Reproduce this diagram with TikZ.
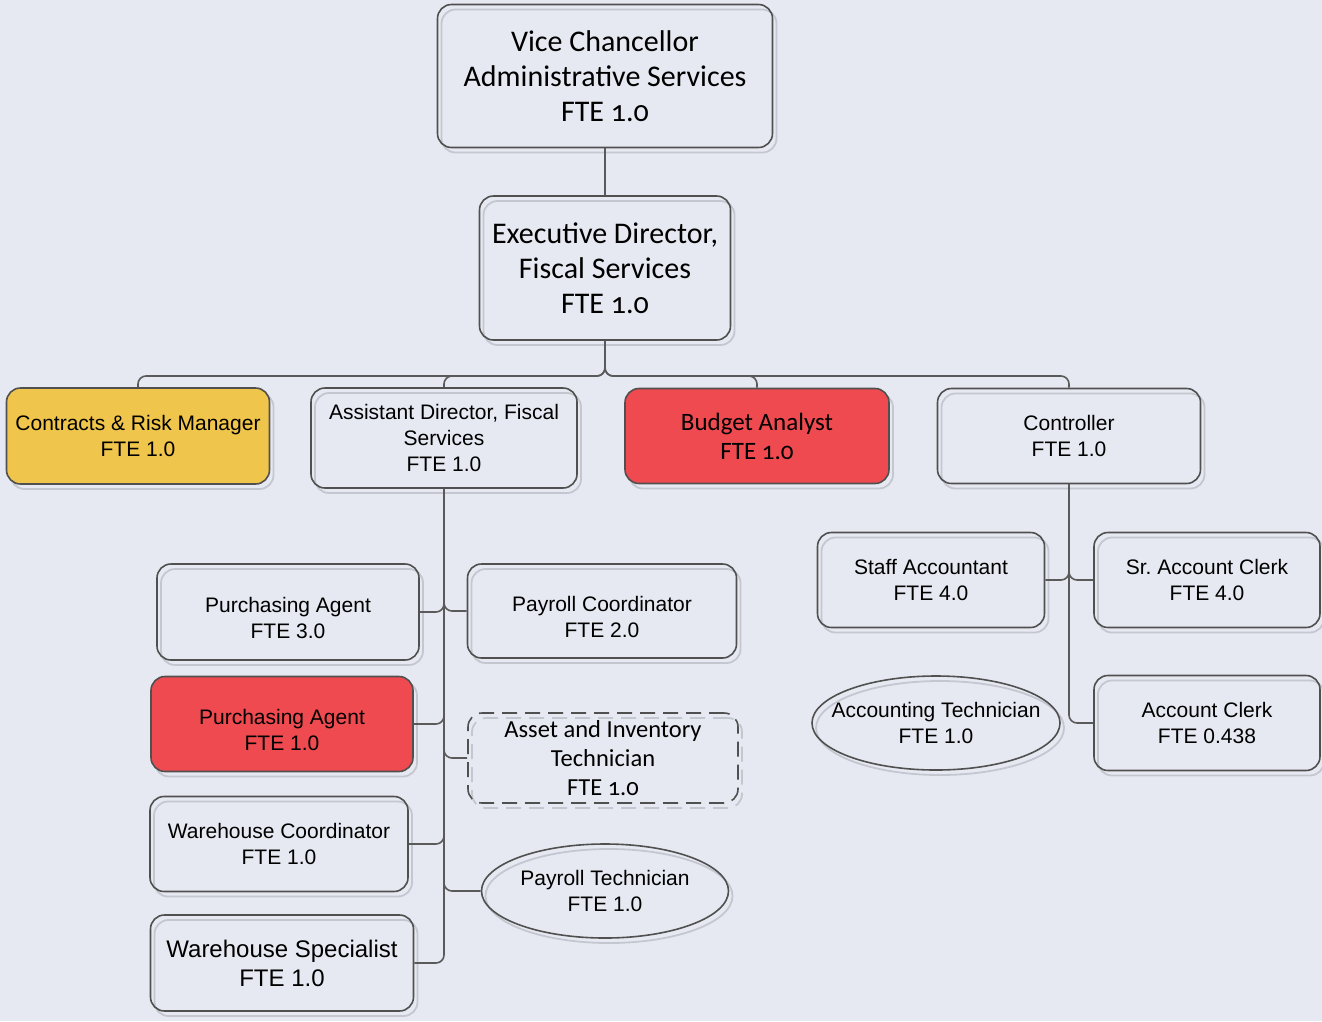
\documentclass[tikz,border=0pt]{standalone}
\usepackage{fontspec}
\setmainfont{Liberation Sans}
\newfontfamily\calfont[Numbers=OldStyle]{Carlito}
\usetikzlibrary{shapes.geometric,shadows}
\definecolor{bg}{HTML}{E6E9F1}
\definecolor{boxc}{HTML}{505050}
\definecolor{linec}{HTML}{5A5A5A}
\definecolor{shc}{HTML}{C4C7CF}
\definecolor{yel}{HTML}{F0C54B}
\definecolor{redf}{HTML}{EF4A4F}
\newcommand{\dn}{\rule{0pt}{27pt}}
\begin{document}
\begin{tikzpicture}[x=1pt,y=-1pt,
  conn/.style={draw=linec, line width=1.6pt, rounded corners=8pt},
  base/.style={draw=boxc, line width=1.6pt, align=center, inner sep=0pt, text=black,
     drop shadow={shadow xshift=4pt, shadow yshift=-5pt, fill=none, draw=shc, line width=1.8pt, opacity=1}},
  box/.style={base, rectangle, rounded corners=14pt},
  dbox/.style={draw=boxc, line width=1.6pt, align=center, inner sep=0pt, text=black, rectangle, rounded corners=14pt,
     dash pattern=on 15pt off 8pt,
     drop shadow={shadow xshift=4pt, shadow yshift=-5pt, fill=none, draw=shc, line width=1.8pt, opacity=1, dash pattern=on 15pt off 8pt}},
  oval/.style={base, ellipse},
  ar/.style={font=\fontsize{21}{26}\selectfont},
  arb/.style={font=\fontsize{24}{29}\selectfont},
  ca/.style={font=\calfont\fontsize{24.5}{29}\selectfont},
  cab/.style={font=\calfont\fontsize{30}{35}\selectfont},
]
\fill[bg] (0,0) rectangle (1322,1021);
\useasboundingbox (0,0) rectangle (1322,1021);

% level 0-1
\node[box, cab, minimum width=335pt, minimum height=143pt] (vc) at (605,76) {Vice Chancellor\\Administrative Services\\FTE 1.0};
\node[box, cab, minimum width=251pt, minimum height=144pt] (ed) at (605,268) {Executive Director,\\Fiscal Services\\FTE 1.0};

% level 2
\node[box, ar, fill=yel, minimum width=263pt, minimum height=96pt] (crm) at (138,436) {Contracts \& Risk Manager\\FTE 1.0};
\node[box, ar, minimum width=266pt, minimum height=100pt] (ad) at (444,438) {Assistant Director, Fiscal\\Services\\FTE 1.0};
\node[box, ca, font=\calfont\fontsize{25}{29}\selectfont, fill=redf, minimum width=264pt, minimum height=95pt] (ba) at (757,436) {Budget Analyst\\FTE 1.0};
\node[box, ar, minimum width=263pt, minimum height=95pt] (ctl) at (1069,436) {Controller\\FTE 1.0};

% under assistant director
\node[box, ar, minimum width=262pt, minimum height=96pt] (pa1) at (288,612) {\dn Purchasing Agent\\FTE 3.0};
\node[box, ar, minimum width=269pt, minimum height=94pt] (pc) at (602,611) {\dn Payroll Coordinator\\FTE 2.0};
\node[box, ar, fill=redf, minimum width=262pt, minimum height=95pt] (pa2) at (282,724) {\dn Purchasing Agent\\FTE 1.0};
\node[dbox, ca, minimum width=270pt, minimum height=90pt] (ait) at (603,758) {Asset and Inventory\\Technician\\FTE 1.0};
\node[box, ar, minimum width=258pt, minimum height=95pt] (wc) at (279,844) {Warehouse Coordinator\\FTE 1.0};
\node[oval, ar, minimum width=247pt, minimum height=94pt] (pt) at (605,891) {Payroll Technician\\FTE 1.0};
\node[box, arb, minimum width=263pt, minimum height=96pt] (ws) at (282,963) {Warehouse Specialist\\FTE 1.0};

% under controller
\node[box, ar, minimum width=227pt, minimum height=95pt] (sa) at (931,580) {Staff Accountant\\FTE 4.0};
\node[box, ar, minimum width=226pt, minimum height=95pt] (sac) at (1207,580) {Sr.\ Account Clerk\\FTE 4.0};
\node[oval, ar, inner xsep=-18pt, minimum width=248pt, minimum height=94pt] (at) at (936,723) {Accounting Technician\\FTE 1.0};
\node[box, ar, minimum width=226pt, minimum height=95pt] (ac) at (1207,723) {Account Clerk\\FTE 0.438};

% connectors
\draw[conn] (vc.south) -- (ed.north);
\foreach \c in {crm,ad,ba,ctl}{
  \draw[conn] (ed.south) |- (\c.north |- 0,376) -- (\c.north);
}
\foreach \c in {pa1,pa2,wc,ws}{
  \draw[conn] (ad.south) |- (\c.east);
}
\foreach \c in {pc,ait,pt}{
  \draw[conn] (ad.south) |- (\c.west);
}
\draw[conn] (ctl.south) |- (sa.east);
\draw[conn] (ctl.south) |- (sac.west);
\draw[conn] (ctl.south) |- (ac.west);
\end{tikzpicture}
\end{document}
